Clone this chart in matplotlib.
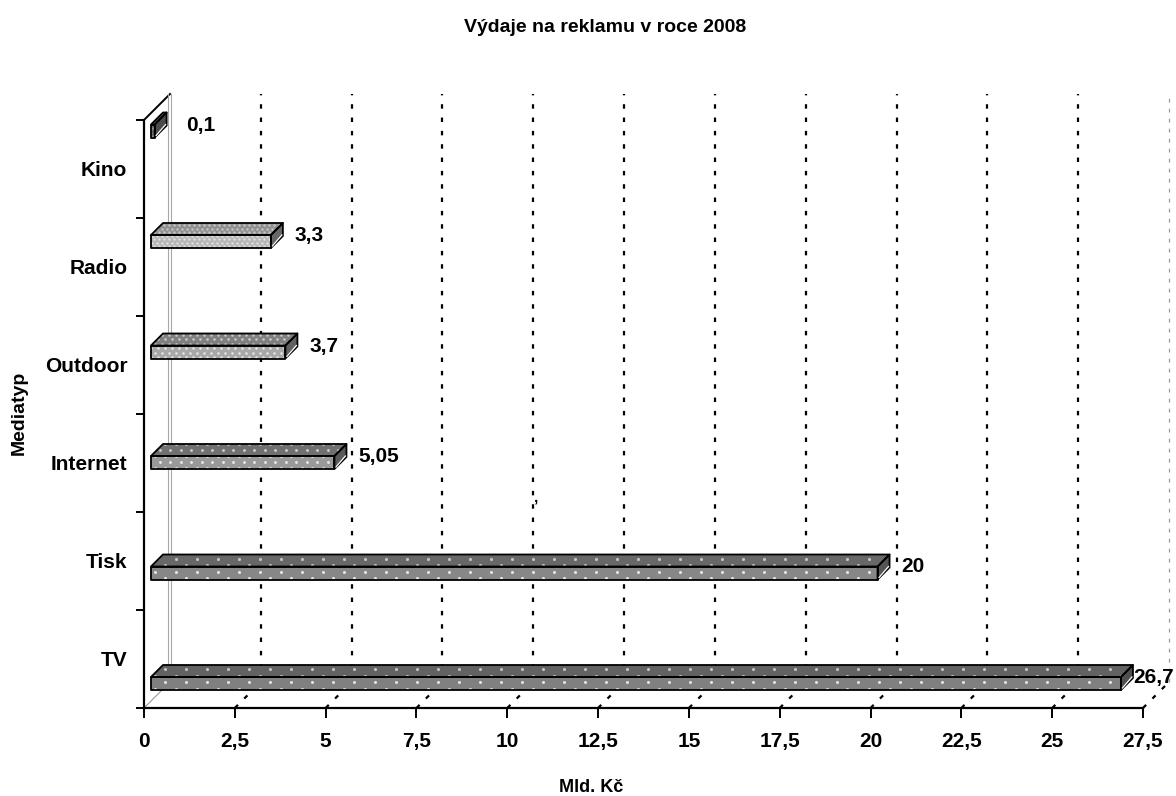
import matplotlib
matplotlib.use("Agg")
import matplotlib.pyplot as plt
from matplotlib.patches import Polygon
import numpy as np

plt.rcParams['font.family'] = ['Liberation Sans', 'DejaVu Sans']
plt.rcParams['font.weight'] = 'bold'

# ---- data -------------------------------------------------------------
categories = ["TV", "Tisk", "Internet", "Outdoor", "Radio", "Kino"]
values = [26.7, 20, 5.05, 3.7, 3.3, 0.1]
x_ticks = [0, 2.5, 5, 7.5, 10, 12.5, 15, 17.5, 20, 22.5, 25, 27.5]
title = "Výdaje na reklamu v roce 2008"
x_label = "Mld. Kč"
y_label = "Mediatyp"

# face colours (front, top, end) and dot texture (column step, row step in px, size)
front_colors = ["#808080", "#878787", "#999999", "#a8a8a8", "#b8b8b8", "#6a6a6a"]
top_colors = ["#626262", "#686868", "#707070", "#808080", "#909090", "#555555"]
end_colors = ["#505050", "#545454", "#5a5a5a", "#606060", "#666666", "#4a4a4a"]
dot_steps = [(21, 6.5), (21, 6.5), (10.5, 6), (7, 4.5), (5, 3.5), (6, 4)]
dot_sizes = [5, 5, 4.5, 3.5, 3, 2.5]
dot_alpha = [0.85, 0.85, 0.85, 0.8, 0.7, 0.5]

W, H, DPI = 1176, 796, 100
fig = plt.figure(figsize=(W / DPI, H / DPI), dpi=DPI)
fig.patch.set_facecolor("white")

# front plane of the plot area (pixels)
L, R, B, T = 144, 1143, 708, 120
pos = [L / W, (H - B) / H, (R - L) / W, (B - T) / H]
ax = fig.add_axes(pos)
ax.set_xlim(0, 27.5)
ax.set_ylim(0, len(categories))
ax.set_facecolor("none")
for s in ("top", "right"):
    ax.spines[s].set_visible(False)
for s in ("left", "bottom"):
    ax.spines[s].set_linewidth(1.6)
    ax.spines[s].set_color("black")

ax.set_xticks(x_ticks)
ax.set_xticklabels([f"{t:g}".replace(".", ",") for t in x_ticks], fontsize=15, fontweight="bold")
ax.tick_params(axis="x", direction="out", length=7.5, width=1.4, pad=10)

ax.set_yticks(np.arange(0, len(categories) + 1))
ax.set_yticklabels([])
ax.tick_params(axis="y", which="major", direction="out", length=6, width=1.4)
ax.set_yticks(np.arange(len(categories)) + 0.5, minor=True)
ax.set_yticklabels(categories, minor=True, fontsize=15, fontweight="bold")
ax.tick_params(axis="y", which="minor", length=0, pad=12)

# depth of the oblique wall (pixels -> data units of the front plane)
DEPTH_PX = 26
sx = (R - L) / 27.5
sy = (B - T) / len(categories)
dx, dy = DEPTH_PX / sx, DEPTH_PX / sy

dotted = (0, (2, 4))
# back wall gridlines
for t in x_ticks[1:]:
    last = t == x_ticks[-1]
    ax.plot([t + dx, t + dx], [dy, len(categories) + dy],
            color="#9a9a9a" if last else "black", lw=0.9 if last else 1.6,
            linestyle=(0, (3, 5)) if last else dotted, clip_on=False, zorder=1)
# floor gridlines
for t in x_ticks[1:]:
    ax.plot([t, t + dx], [0, dy], color="black", lw=1.6, linestyle=dotted,
            clip_on=False, zorder=1)
# wall edges
ax.plot([0, dx], [len(categories), len(categories) + dy], color="black", lw=1.4,
        clip_on=False, zorder=2)
ax.plot([0, dx], [0, dy], color="#9a9a9a", lw=0.8, clip_on=False, zorder=2)
for off in (-1.6, 1.4):
    ax.plot([dx + off / sx, dx + off / sx], [dy, len(categories) + dy], color="#a8a8a8",
            lw=0.8, clip_on=False, zorder=8)

# ---- bars (own overlay axes: rows are spaced wider than the label bands)
bax = fig.add_axes(pos)
bax.set_xlim(0, 27.5)
ROW_PX = 110.5
ROW0_PX = 690.5
bax.set_ylim(-(B - ROW0_PX) / ROW_PX, (ROW0_PX - T) / ROW_PX)
bax.axis("off")
bax.set_facecolor("none")
rsy = ROW_PX
D0, D1 = 7, 19
ox0, oy0 = D0 / sx, D0 / rsy
ox1, oy1 = D1 / sx, D1 / rsy
h = 13 / rsy
y_base = (B - ROW0_PX) / ROW_PX


def dots(patch, pts, step, size, alpha, z):
    """Staggered white dot texture clipped to one face."""
    cx, cy = step
    arr = np.asarray(pts)
    px_x = arr[:, 0] * sx
    px_y = (arr[:, 1] + y_base) * rsy
    ys = np.arange(np.floor(px_y.min() / cy) * cy, px_y.max() + cy, cy)
    xs_all, ys_all = [], []
    for yy in ys:
        shift = (cx / 2) if (int(round(yy / cy)) % 2) else 0
        xs = np.arange(np.floor(px_x.min() / cx) * cx - cx, px_x.max() + cx, cx) + shift
        xs_all.append(xs)
        ys_all.append(np.full_like(xs, yy))
    xs = np.concatenate(xs_all) / sx
    yv = np.concatenate(ys_all) / rsy - y_base
    sc = bax.scatter(xs, yv, s=size, marker="o", color="#f2f2f2", alpha=alpha,
                     linewidths=0, zorder=z, clip_on=True)
    sc.set_clip_path(patch)


def face(pts, fc, z, i=None, alpha_scale=1.0):
    p = Polygon(pts, closed=True, facecolor=fc, edgecolor="none", zorder=z, clip_on=False)
    bax.add_patch(p)
    if i is not None:
        dots(p, pts, dot_steps[i], dot_sizes[i], dot_alpha[i] * alpha_scale, z + 0.1)
    bax.add_patch(Polygon(pts, closed=True, fill=False, edgecolor="black", lw=1.3,
                          zorder=z + 0.2, clip_on=False, joinstyle="round"))


for i, v in enumerate(values):
    y0, y1 = i - h / 2, i + h / 2
    front = [(ox0, y0 + oy0), (v + ox0, y0 + oy0), (v + ox0, y1 + oy0), (ox0, y1 + oy0)]
    top = [(ox0, y1 + oy0), (v + ox0, y1 + oy0), (v + ox1, y1 + oy1), (ox1, y1 + oy1)]
    end = [(v + ox0, y0 + oy0), (v + ox1, y0 + oy1), (v + ox1, y1 + oy1), (v + ox0, y1 + oy0)]
    face(front, front_colors[i], 4, i)
    face(top, top_colors[i], 4, i, 0.8)
    face(end, end_colors[i], 4)
    # light rim on the end face
    bax.plot([v + ox0 + 1.5 / sx, v + ox1 - 1 / sx], [y0 + oy0 + 2 / rsy, y0 + oy1 + 1 / rsy],
             color="white", lw=0.9, zorder=4.5, clip_on=False)
    lx = min(max(v + ox1 + 12 / sx, 1.15), 27.22)
    ly = i + (oy0 + oy1) / 2
    bax.text(lx, ly, f"{v:g}".replace(".", ","), ha="left", va="center",
             fontsize=15, fontweight="bold", zorder=9, clip_on=False)

ax.text(10.79, 2.15, ",", ha="center", va="center", fontsize=11, fontweight="bold")

fig.text(605 / W, 1 - 28 / H, title, ha="center", va="center", fontsize=14, fontweight="bold")
fig.text(591 / W, 1 - 787 / H, x_label, ha="center", va="center", fontsize=13, fontweight="bold")
fig.text(19 / W, 1 - 413 / H, y_label, ha="center", va="center", rotation=90,
         fontsize=14, fontweight="bold")

fig.savefig("out.png", dpi=DPI, facecolor="white")
